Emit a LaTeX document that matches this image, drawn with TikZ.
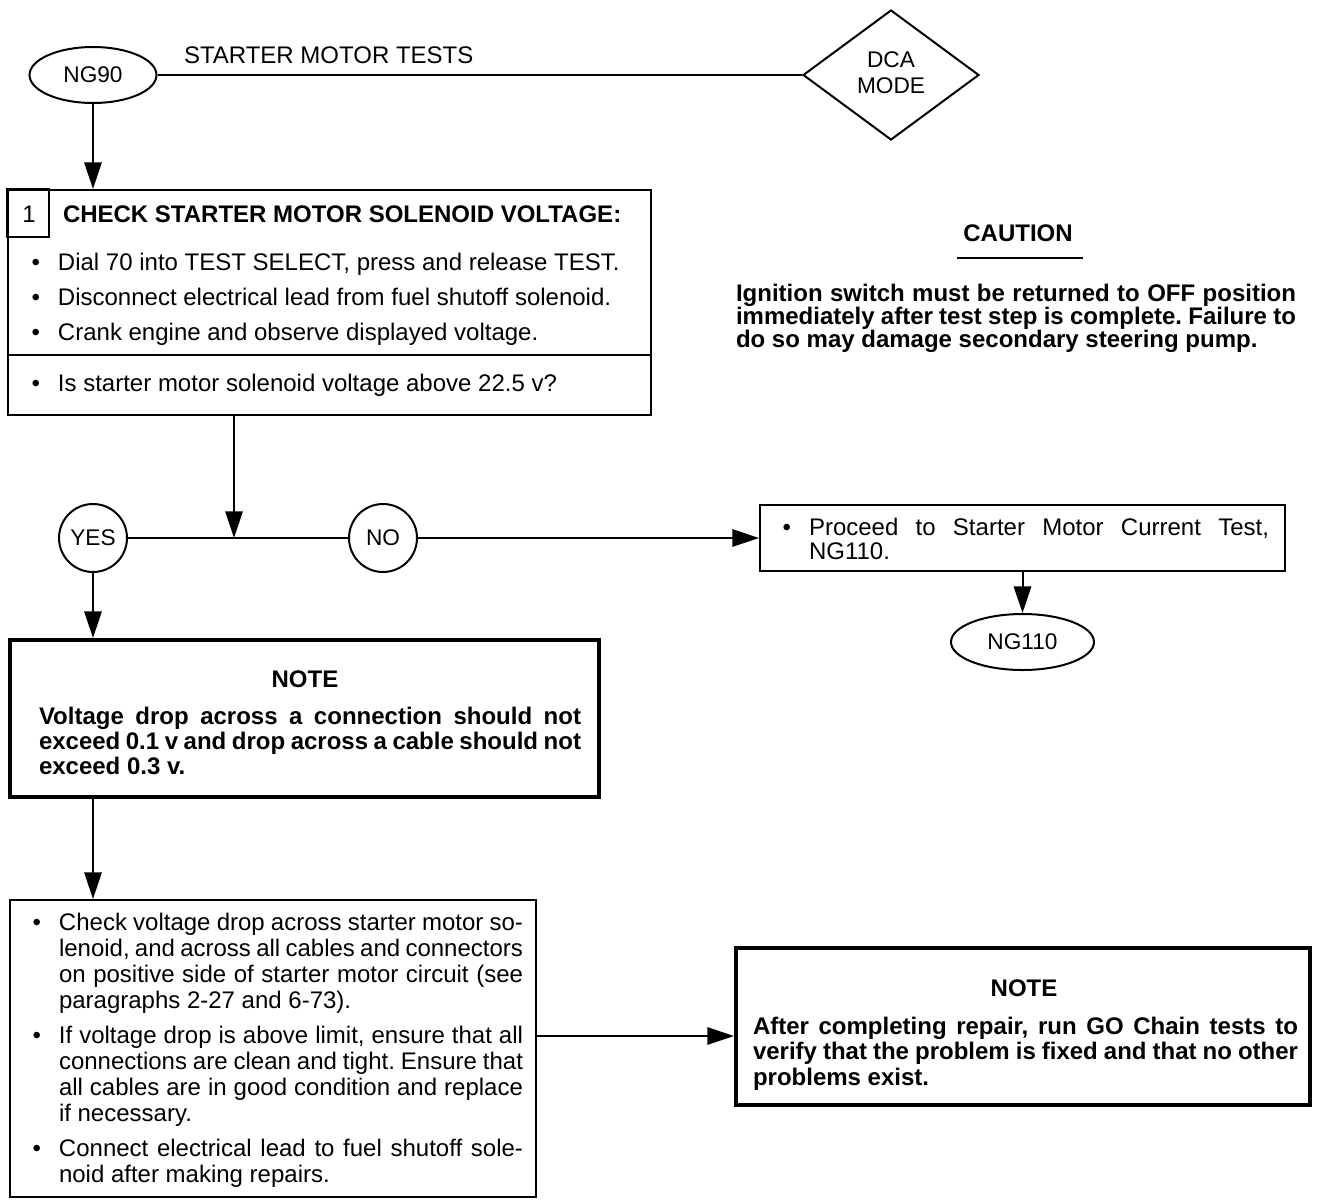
\documentclass[tikz,border=0pt]{standalone}
\usepackage{fontspec}
\setmainfont{Liberation Sans}
\usetikzlibrary{shapes.geometric,arrows.meta}
\newlength\upx \setlength\upx{0.75pt}
\newcommand\jline[2]{\makebox[#1\upx][s]{#2}}
\newcommand\tlines[2]{\vtop{\baselineskip=#1\upx\lineskiplimit=-20pt\lineskip=0pt\halign{##\hfil\cr#2\crcr}}}
\newcommand\bul{\llap{\textbullet\hspace{18\upx}}}
\frenchspacing
\begin{document}
\begin{tikzpicture}[x=0.75pt,y=-0.75pt, line width=1.5pt,
  every node/.style={font=\fontsize{18pt}{21pt}\selectfont, inner sep=0pt},
  bf/.style={font=\fontsize{18pt}{21pt}\selectfont\bfseries},
  small/.style={font=\fontsize{17pt}{19.5pt}\selectfont},
  arr/.style={-{Triangle[length=20pt,width=13pt]}},
  box/.style={draw, rectangle, inner sep=0pt},
  thickbox/.style={draw, rectangle, line width=3pt},
  term/.style={draw, ellipse, inner sep=0pt, small},
  circ/.style={draw, circle, minimum size=68\upx, inner sep=0pt, small},
  ]
\useasboundingbox (0,0) rectangle (1319,1199);

% top row
\node[term, minimum width=127\upx, minimum height=56\upx] (ng90) at (93,75) {NG90};
\node[anchor=base west] (title) at (183,63) {STARTER MOTOR TESTS};
\node[draw, diamond, minimum width=176\upx, minimum height=130\upx, align=center, small] (dca) at (891,75) {\raisebox{3pt}{\shortstack{DCA\\[4.5pt]MODE}}};
\draw (ng90) -- (dca);

% step 1 box
\node[box, minimum width=643\upx, minimum height=225\upx] (b1) at (329.5,302.5) {};
\draw (b1.north west) rectangle ++(42,48);
\node (n1) at (29,214) {1};
\node[anchor=base west, bf] (b1t) at (62,222) {CHECK STARTER MOTOR SOLENOID VOLTAGE:};
\node[anchor=base west] (b1l) at (57,270) {\tlines{35}{\bul Dial 70 into TEST SELECT, press and release TEST.\cr
\bul Disconnect electrical lead from fuel shutoff solenoid.\cr
\bul Crank engine and observe displayed voltage.}};
\draw (b1.west |- 0,355) -- (b1.east |- 0,355);
\node[anchor=base west] (q) at (57,391) {\bul Is starter motor solenoid voltage above 22.5 v?};
\draw[arr] (ng90) -- (ng90 |- b1.north);

% decision
\coordinate (j) at (234,538);
\node[circ] (yes) at (93,538) {YES};
\node[circ] (no) at (383,538) {NO};
\draw (yes) -- (no);
\draw[arr] (j |- b1.south) -- (j);

% NO branch
\node[box, minimum width=525\upx, minimum height=66\upx] (nb) at (1022.5,538) {};
\node[anchor=base west] (nbt) at (808,535) {\tlines{24}{\bul\jline{460}{Proceed to Starter Motor Current Test,}\cr NG110.}};
\draw[arr] (no) -- (nb);
\node[term, minimum width=143\upx, minimum height=56\upx] (ng110) at (1022.5,642) {NG110};
\draw[arr] (nb) -- (ng110);

% caution
\node[anchor=base, bf] (cau) at (1018,241) {CAUTION};
\draw (957,258) -- (1083,258);
\node[anchor=base west, bf] (caub) at (735,301) {\tlines{23}{\jline{560}{Ignition switch must be returned to OFF position}\cr
\jline{560}{immediately after test step is complete. Failure to}\cr
do so may damage secondary steering pump.}};

% NOTE 1
\node[thickbox, minimum width=589\upx, minimum height=157\upx] (note1) at (304.5,718.5) {};
\node[anchor=base, bf] (note1h) at (305,687) {NOTE};
\node[anchor=base west, bf] (note1b) at (38,724) {\tlines{25}{\jline{542}{Voltage drop across a connection should not}\cr
\jline{542}{exceed 0.1 v and drop across a cable should not}\cr
exceed 0.3 v.}};
\draw[arr] (yes) -- (yes |- note1.north);

% box 3
\node[box, minimum width=526\upx, minimum height=297\upx] (b3) at (273,1048.5) {};
\node[anchor=base west] (b3t) at (58,930) {\tlines{26}{\bul\jline{464}{Check voltage drop across starter motor so-}\cr
\jline{464}{lenoid, and across all cables and connectors}\cr
\jline{464}{on positive side of starter motor circuit (see}\cr
paragraphs 2-27 and 6-73).\cr\noalign{\vskip 9\upx}
\bul\jline{464}{If voltage drop is above limit, ensure that all}\cr
\jline{464}{connections are clean and tight. Ensure that}\cr
\jline{464}{all cables are in good condition and replace}\cr
if necessary.\cr\noalign{\vskip 9\upx}
\bul\jline{464}{Connect electrical lead to fuel shutoff sole-}\cr
noid after making repairs.}};
\draw[arr] (yes |- note1.south) -- (yes |- b3.north);

% NOTE 2
\node[thickbox, minimum width=574\upx, minimum height=157\upx] (note2) at (1023,1026.5) {};
\node[anchor=base, bf] (note2h) at (1024,996) {NOTE};
\node[anchor=base west, bf] (note2b) at (752,1034) {\tlines{25.5}{\jline{545}{After completing repair, run GO Chain tests to}\cr
\jline{545}{verify that the problem is fixed and that no other}\cr
problems exist.}};
\coordinate (a3) at (536,1036);
\draw[arr] (b3.east |- a3) -- (note2.west |- a3);
\end{tikzpicture}
\end{document}
